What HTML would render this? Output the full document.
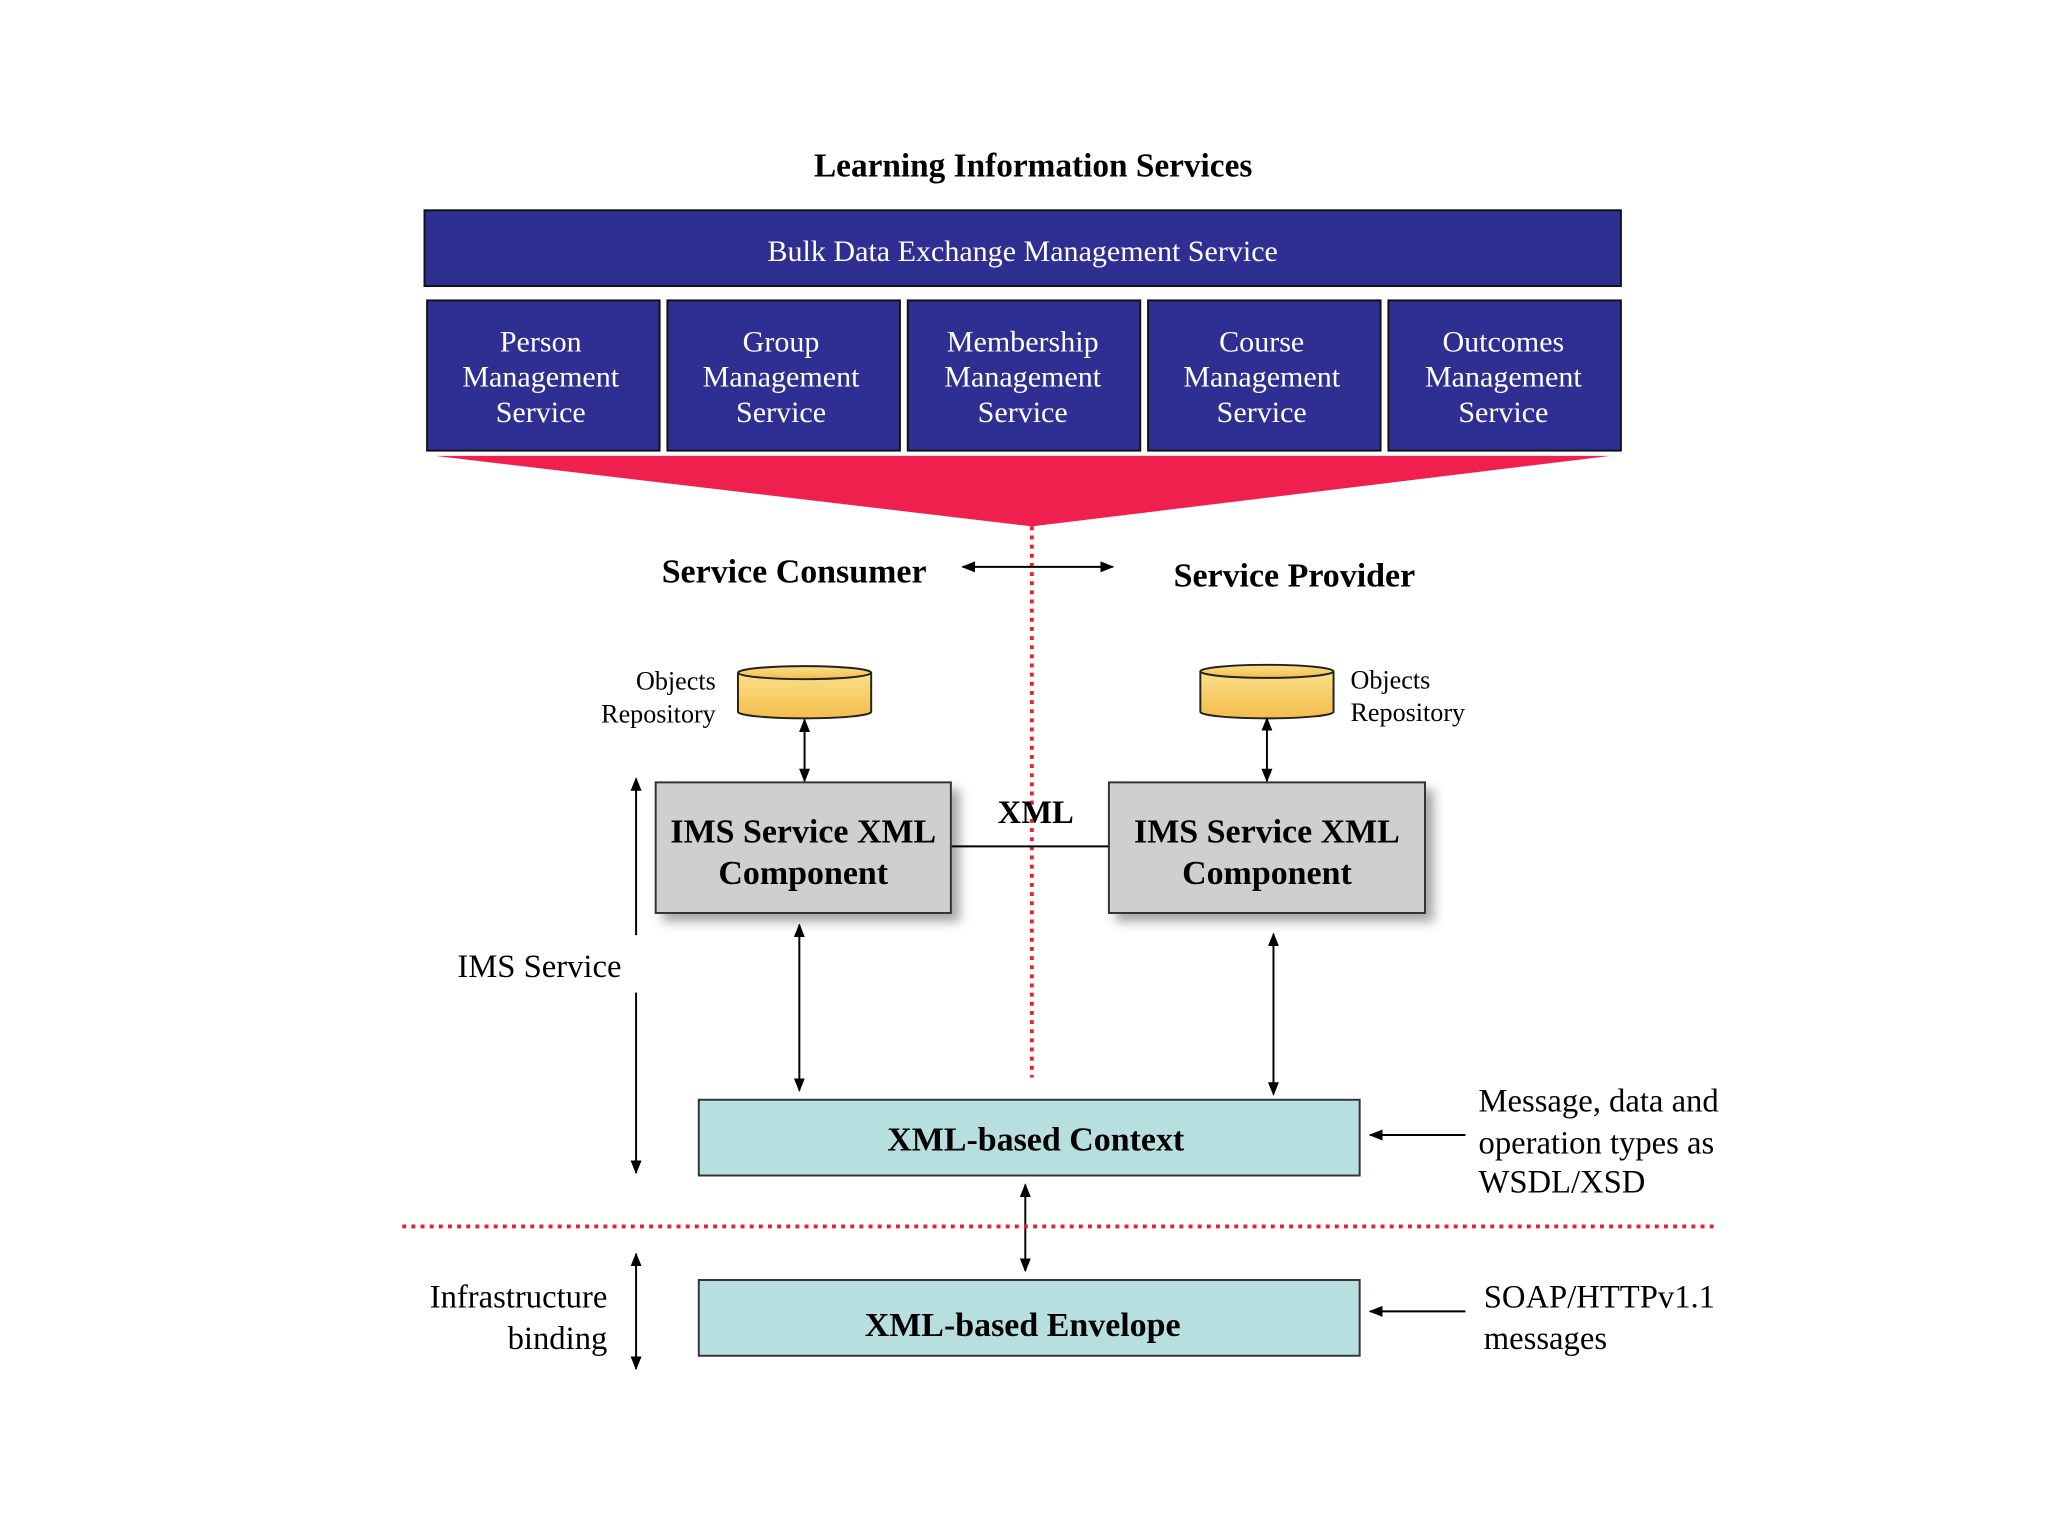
<!DOCTYPE html>
<html><head><meta charset="utf-8"><style>html,body{margin:0;padding:0;background:#fff}svg{display:block}</style></head><body>
<svg width="2048" height="1536" viewBox="0 0 1568 1176" xmlns="http://www.w3.org/2000/svg" font-family="Liberation Serif, serif">
<defs>
<marker id="a" viewBox="0 0 10 10" refX="9" refY="5" markerWidth="7" markerHeight="7" orient="auto-start-reverse"><path d="M0,1 L10,5 L0,9 z" fill="#000"/></marker>
<linearGradient id="cy" x1="0" x2="0" y1="0" y2="1"><stop offset="0" stop-color="#fbe08a"/><stop offset="1" stop-color="#f3bd4c"/></linearGradient>
<filter id="sh" x="-10%" y="-10%" width="130%" height="130%"><feDropShadow dx="6" dy="6" stdDeviation="4" flood-color="#000" flood-opacity="0.35"/></filter>
</defs>
<rect width="1568" height="1176" fill="#fff"/>
<text x="791" y="135" font-size="25.5" font-weight="bold" text-anchor="middle">Learning Information Services</text>
<rect x="325" y="161" width="916" height="58" fill="#2f2f93" stroke="#111" stroke-width="1.5"/>
<text x="783" y="200" font-size="23" fill="#fff" text-anchor="middle">Bulk Data Exchange Management Service</text>
<g fill="#2f2f93" stroke="#111" stroke-width="1.5">
<rect x="327" y="230" width="178" height="115"/><rect x="511" y="230" width="178" height="115"/><rect x="695" y="230" width="178" height="115"/><rect x="879" y="230" width="178" height="115"/><rect x="1063" y="230" width="178" height="115"/>
</g>
<g font-size="23" fill="#fff" text-anchor="middle">
<text x="414" y="269">Person</text><text x="414" y="296">Management</text><text x="414" y="323">Service</text>
<text x="598" y="269">Group</text><text x="598" y="296">Management</text><text x="598" y="323">Service</text>
<text x="783" y="269">Membership</text><text x="783" y="296">Management</text><text x="783" y="323">Service</text>
<text x="966" y="269">Course</text><text x="966" y="296">Management</text><text x="966" y="323">Service</text>
<text x="1151" y="269">Outcomes</text><text x="1151" y="296">Management</text><text x="1151" y="323">Service</text>
</g>
<polygon points="333,349 1233,349 790,403" fill="#f0204e"/>
<line x1="790" y1="403" x2="790" y2="825" stroke="#e8202f" stroke-width="3" stroke-dasharray="3,4"/>
<text x="608" y="446" font-size="26" font-weight="bold" text-anchor="middle">Service Consumer</text>
<text x="991" y="449" font-size="26" font-weight="bold" text-anchor="middle">Service Provider</text>
<line x1="737" y1="434" x2="852" y2="434" stroke="#000" stroke-width="1.5" marker-start="url(#a)" marker-end="url(#a)"/>
<g stroke="#222" stroke-width="1.5" fill="url(#cy)">
<path d="M565,515 V545 A51,5 0 0 0 667,545 V515"/><ellipse cx="616" cy="515" rx="51" ry="5"/>
<path d="M919,514 V545 A51,5 0 0 0 1021,545 V514"/><ellipse cx="970" cy="514" rx="51" ry="5"/>
</g>
<g font-size="20">
<text x="548" y="528" text-anchor="end">Objects</text><text x="548" y="553" text-anchor="end">Repository</text>
<text x="1034" y="527">Objects</text><text x="1034" y="552">Repository</text>
</g>
<g stroke="#000" stroke-width="1.5" marker-start="url(#a)" marker-end="url(#a)">
<line x1="616" y1="551" x2="616" y2="598"/><line x1="970" y1="550" x2="970" y2="598"/>
<line x1="612" y1="708" x2="612" y2="835"/><line x1="975" y1="715" x2="975" y2="838"/>
<line x1="785" y1="907" x2="785" y2="973"/>
<line x1="487" y1="960" x2="487" y2="1048"/>
</g>
<g stroke="#000" stroke-width="1.5">
<line x1="487" y1="596" x2="487" y2="716" marker-start="url(#a)"/>
<line x1="487" y1="760" x2="487" y2="898" marker-end="url(#a)"/>
<line x1="1122" y1="869" x2="1049" y2="869" marker-end="url(#a)"/>
<line x1="1122" y1="1004" x2="1049" y2="1004" marker-end="url(#a)"/>
<line x1="728" y1="648" x2="849" y2="648"/>
</g>
<g fill="#cfcfd1" stroke="#333" stroke-width="1.5" filter="url(#sh)">
<rect x="502" y="599" width="226" height="100"/><rect x="849" y="599" width="242" height="100"/>
</g>
<g font-size="26" font-weight="bold" text-anchor="middle">
<text x="615" y="645">IMS Service XML</text><text x="615" y="677">Component</text>
<text x="970" y="645">IMS Service XML</text><text x="970" y="677">Component</text>
<text x="793" y="630" font-size="25">XML</text>
</g>
<text x="413" y="748" font-size="25" text-anchor="middle">IMS Service</text>
<rect x="535" y="842" width="506" height="58" fill="#b8dfe0" stroke="#333" stroke-width="1.5"/>
<text x="793" y="881" font-size="26" font-weight="bold" text-anchor="middle">XML-based Context</text>
<rect x="535" y="980" width="506" height="58" fill="#b8dfe0" stroke="#333" stroke-width="1.5"/>
<text x="783" y="1023" font-size="26" font-weight="bold" text-anchor="middle">XML-based Envelope</text>
<line x1="308" y1="939" x2="1316" y2="939" stroke="#e8202f" stroke-width="3" stroke-dasharray="3,4"/>
<g font-size="25">
<text x="1132" y="851">Message, data and</text><text x="1132" y="883">operation types as</text><text x="1132" y="913">WSDL/XSD</text>
<text x="1136" y="1001">SOAP/HTTPv1.1</text><text x="1136" y="1033">messages</text>
<text x="465" y="1001" text-anchor="end">Infrastructure</text><text x="465" y="1033" text-anchor="end">binding</text>
</g>
</svg>
</body></html>
